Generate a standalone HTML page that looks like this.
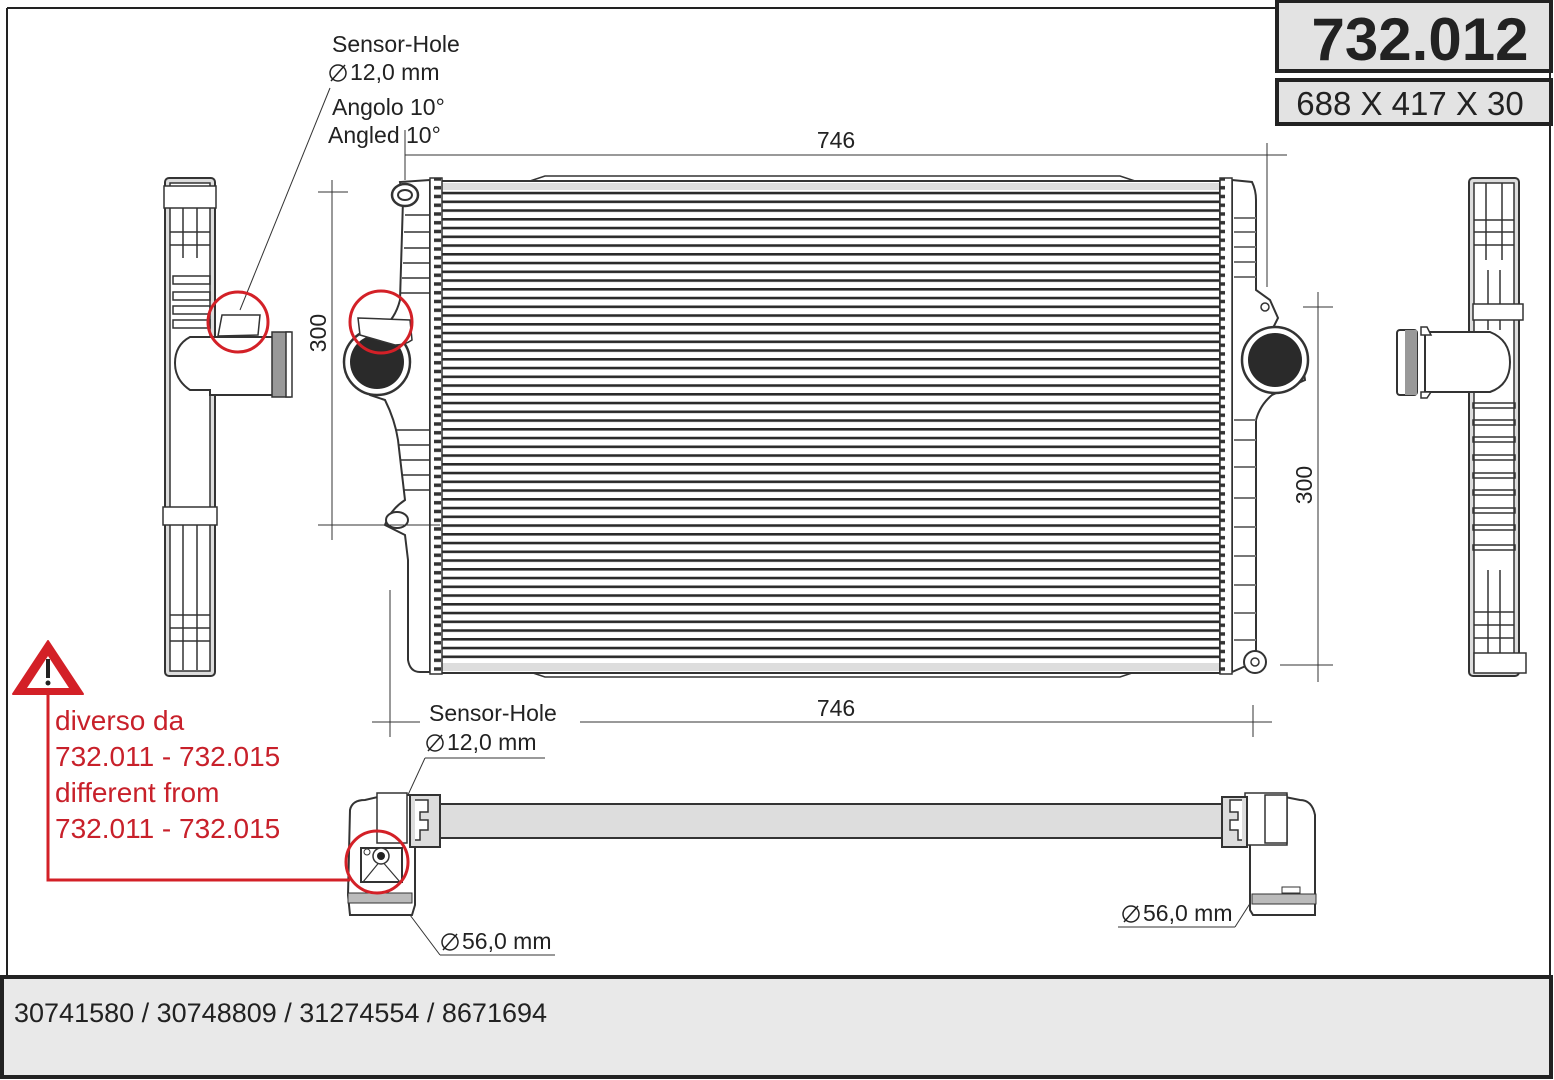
<!DOCTYPE html>
<html><head><meta charset="utf-8"><style>
html,body{margin:0;padding:0;background:#fff;}
svg{display:block;font-family:"Liberation Sans",Arial,sans-serif;}
</style></head><body>
<svg width="1554" height="1080" viewBox="0 0 1554 1080" xmlns="http://www.w3.org/2000/svg">
<defs>
<pattern id="tubes" x="0" y="183" width="10" height="8.75" patternUnits="userSpaceOnUse">
<rect width="10" height="8.75" fill="#fff"/>
<rect y="0" width="10" height="2.6" fill="#2a2a2a"/>
</pattern>
<pattern id="comb" x="0" y="183" width="14" height="8.75" patternUnits="userSpaceOnUse">
<rect width="14" height="8.75" fill="#fff"/>
<rect x="0" y="3" width="7" height="3.5" fill="#333"/>
</pattern>
</defs>
<rect x="0" y="0" width="1554" height="1080" fill="#fff"/>
<line x1="7" y1="8" x2="1278" y2="8" stroke="#222" stroke-width="2"/>
<line x1="7" y1="8" x2="7" y2="976" stroke="#222" stroke-width="2"/>
<line x1="1550" y1="72" x2="1550" y2="976" stroke="#222" stroke-width="2"/>
<rect x="1277" y="1" width="274" height="70" fill="#e3e3e3" stroke="#222" stroke-width="4"/>
<text x="1420" y="60" font-size="60" font-weight="bold" text-anchor="middle" fill="#222">732.012</text>
<rect x="1277" y="80" width="274" height="44" fill="#e3e3e3" stroke="#222" stroke-width="4"/>
<text x="1410" y="115" font-size="33" text-anchor="middle" fill="#222">688 X 417 X 30</text>
<rect x="2" y="977" width="1549" height="100" fill="#e9e9e9" stroke="#222" stroke-width="4"/>
<text x="14" y="1022" font-size="27" fill="#222">30741580 / 30748809 / 31274554 / 8671694</text>

<path d="M530,181 L545,176 L1120,176 L1135,181 Z" fill="#fff" stroke="#333" stroke-width="1.5"/>
<path d="M530,672 L545,677 L1120,677 L1135,672 Z" fill="#fff" stroke="#333" stroke-width="1.5"/>
<rect x="441" y="181" width="779" height="492" fill="url(#tubes)" stroke="#333" stroke-width="2"/>
<rect x="442" y="183" width="777" height="7" fill="#ddd"/>
<rect x="442" y="663" width="777" height="8" fill="#ddd"/>
<path d="M430,180 L400,182 L403,200 L400,300 Q395,320 380,330 L345,360 L370,395 L385,400 Q395,420 398,440 L405,500 Q390,510 385,525 L405,535 L408,560 L408,660 Q410,672 420,672 L430,672 Z" fill="#fff" stroke="#333" stroke-width="2"/>
<ellipse cx="405" cy="195" rx="13" ry="11" fill="#fff" stroke="#333" stroke-width="2.5"/>
<ellipse cx="405" cy="195" rx="7" ry="5" fill="#fff" stroke="#333" stroke-width="2"/>
<ellipse cx="397" cy="520" rx="11" ry="8" fill="#fff" stroke="#333" stroke-width="2"/>
<rect x="430" y="178" width="12" height="496" fill="url(#comb)" stroke="#333" stroke-width="1.5"/>
<circle cx="377" cy="362" r="33" fill="#fff" stroke="#333" stroke-width="2.5"/>
<circle cx="377" cy="362" r="27" fill="#2a2a2a"/>
<g stroke="#333" stroke-width="1.5">
<line x1="405" y1="215" x2="430" y2="215"/><line x1="404" y1="232" x2="430" y2="232"/><line x1="404" y1="248" x2="430" y2="248"/><line x1="403" y1="263" x2="430" y2="263"/><line x1="402" y1="278" x2="430" y2="278"/><line x1="400" y1="293" x2="430" y2="293"/>
<line x1="395" y1="430" x2="430" y2="430"/><line x1="398" y1="445" x2="430" y2="445"/><line x1="400" y1="460" x2="430" y2="460"/><line x1="402" y1="475" x2="430" y2="475"/><line x1="404" y1="490" x2="430" y2="490"/>
</g>
<path d="M358,318 L410,320 L412,340 Q405,345 395,345 L360,335 Z" fill="#fff" stroke="#333" stroke-width="1.5"/>
<circle cx="381" cy="322" r="31" fill="none" stroke="#d32027" stroke-width="3"/>
<path d="M1232,180 L1252,182 Q1256,190 1256,200 L1256,290 L1270,300 L1278,318 L1272,330 L1300,345 L1305,380 L1272,395 Q1260,405 1256,420 L1256,650 Q1250,660 1248,665 L1232,672 Z" fill="#fff" stroke="#333" stroke-width="2"/>
<rect x="1220" y="178" width="12" height="496" fill="url(#comb)" stroke="#333" stroke-width="1.5"/>
<circle cx="1275" cy="360" r="33" fill="#fff" stroke="#333" stroke-width="2.5"/>
<circle cx="1275" cy="360" r="27" fill="#2a2a2a"/>
<circle cx="1255" cy="662" r="11" fill="#fff" stroke="#333" stroke-width="2"/>
<circle cx="1255" cy="662" r="4" fill="#fff" stroke="#333" stroke-width="1.5"/>
<circle cx="1265" cy="307" r="4" fill="#fff" stroke="#333" stroke-width="1.5"/>
<g stroke="#777" stroke-width="2">
<line x1="1234" y1="218" x2="1256" y2="218"/><line x1="1234" y1="232" x2="1256" y2="232"/><line x1="1234" y1="247" x2="1256" y2="247"/><line x1="1234" y1="262" x2="1256" y2="262"/><line x1="1234" y1="277" x2="1256" y2="277"/>
<line x1="1234" y1="420" x2="1256" y2="420"/><line x1="1234" y1="440" x2="1256" y2="440"/><line x1="1234" y1="467" x2="1256" y2="467"/><line x1="1234" y1="498" x2="1256" y2="498"/><line x1="1234" y1="527" x2="1256" y2="527"/><line x1="1234" y1="556" x2="1256" y2="556"/><line x1="1234" y1="585" x2="1256" y2="585"/><line x1="1234" y1="613" x2="1256" y2="613"/><line x1="1234" y1="640" x2="1256" y2="640"/>
</g>

<g stroke="#333" stroke-width="1">
<line x1="405" y1="155" x2="1287" y2="155"/>
<line x1="405" y1="130" x2="405" y2="180"/>
<line x1="1267" y1="143" x2="1267" y2="287"/>
<line x1="332" y1="180" x2="332" y2="540"/>
<line x1="318" y1="192" x2="348" y2="192"/>
<line x1="318" y1="525" x2="440" y2="525"/>
<line x1="1318" y1="292" x2="1318" y2="682"/>
<line x1="1303" y1="307" x2="1333" y2="307"/>
<line x1="1280" y1="665" x2="1333" y2="665"/>
<line x1="372" y1="722" x2="420" y2="722"/>
<line x1="580" y1="722" x2="1272" y2="722"/>
<line x1="390" y1="590" x2="390" y2="737"/>
<line x1="1253" y1="705" x2="1253" y2="737"/>
<line x1="330" y1="88" x2="240" y2="310"/>
<line x1="545" y1="758" x2="425" y2="758"/>
<line x1="425" y1="758" x2="378" y2="860"/>
</g>
<g font-size="23" fill="#222">
<text x="836" y="148" text-anchor="middle">746</text>
<text x="836" y="716" text-anchor="middle">746</text>
<text transform="translate(326,333) rotate(-90)" text-anchor="middle">300</text>
<text transform="translate(1312,485) rotate(-90)" text-anchor="middle">300</text>
<text x="332" y="52">Sensor-Hole</text>
<text x="350" y="80">12,0 mm</text>
<text x="332" y="115">Angolo 10°</text>
<text x="328" y="143">Angled 10°</text>
<text x="429" y="721">Sensor-Hole</text>
<text x="447" y="750">12,0 mm</text>
<text x="462" y="949">56,0 mm</text>
<text x="1143" y="921">56,0 mm</text>
</g>
<g fill="none" stroke="#222" stroke-width="1.5">
<circle cx="338" cy="73" r="8"/><line x1="331" y1="81" x2="345" y2="65"/>
<circle cx="435" cy="743" r="8"/><line x1="428" y1="751" x2="442" y2="735"/>
<circle cx="450" cy="942" r="8"/><line x1="443" y1="950" x2="457" y2="934"/>
<circle cx="1131" cy="914" r="8"/><line x1="1124" y1="922" x2="1138" y2="906"/>
</g>
<g stroke="#333" stroke-width="1">
<line x1="410" y1="915" x2="440" y2="955"/><line x1="440" y1="955" x2="555" y2="955"/>
<line x1="1118" y1="927" x2="1235" y2="927"/><line x1="1235" y1="927" x2="1265" y2="880"/>
</g>

<rect x="165" y="178" width="50" height="498" rx="4" fill="#ddd" stroke="#333" stroke-width="2"/>
<rect x="170" y="183" width="40" height="488" fill="#fff" stroke="#333" stroke-width="1.5"/>
<g stroke="#333" stroke-width="1.5" fill="none">
<rect x="164" y="186" width="52" height="22" fill="#fff"/>
<line x1="183" y1="208" x2="183" y2="258"/><line x1="197" y1="208" x2="197" y2="258"/>
<line x1="170" y1="232" x2="210" y2="232"/><line x1="170" y1="245" x2="210" y2="245"/>
<rect x="173" y="276" width="37" height="8"/><rect x="173" y="292" width="37" height="8"/><rect x="173" y="306" width="37" height="8"/><rect x="173" y="320" width="37" height="8"/>
<rect x="163" y="507" width="54" height="18" fill="#fff"/>
<line x1="183" y1="525" x2="183" y2="670"/><line x1="197" y1="525" x2="197" y2="670"/>
<line x1="170" y1="615" x2="210" y2="615"/><line x1="170" y1="628" x2="210" y2="628"/><line x1="170" y1="641" x2="210" y2="641"/>
</g>
<path d="M190,337 L275,337 L275,395 L210,395 L210,390 L190,390 Q175,380 175,363 Q175,345 190,337 Z" fill="#fff" stroke="#333" stroke-width="2"/>
<rect x="272" y="332" width="18" height="65" fill="#999" stroke="#333" stroke-width="1.5"/>
<rect x="286" y="332" width="6" height="65" fill="#fff" stroke="#333" stroke-width="1.5"/>
<path d="M222,315 L260,315 L258,335 L218,336 Z" fill="#fff" stroke="#333" stroke-width="1.5"/>
<circle cx="238" cy="322" r="30" fill="none" stroke="#d32027" stroke-width="3"/>

<rect x="1469" y="178" width="50" height="498" rx="4" fill="#ddd" stroke="#333" stroke-width="2"/>
<rect x="1474" y="183" width="40" height="488" fill="#fff" stroke="#333" stroke-width="1.5"/>
<g stroke="#333" stroke-width="1.5" fill="none">
<line x1="1474" y1="220" x2="1514" y2="220"/><line x1="1474" y1="232" x2="1514" y2="232"/><line x1="1474" y1="245" x2="1514" y2="245"/>
<line x1="1486" y1="183" x2="1486" y2="260"/><line x1="1502" y1="183" x2="1502" y2="260"/>
<line x1="1488" y1="270" x2="1488" y2="330"/><line x1="1500" y1="270" x2="1500" y2="330"/>
<rect x="1473" y="304" width="50" height="16" fill="#fff"/>
<rect x="1473" y="403" width="42" height="5"/><rect x="1473" y="420" width="42" height="5"/><rect x="1473" y="437" width="42" height="5"/><rect x="1473" y="455" width="42" height="5"/><rect x="1473" y="473" width="42" height="5"/><rect x="1473" y="490" width="42" height="5"/><rect x="1473" y="508" width="42" height="5"/><rect x="1473" y="525" width="42" height="5"/><rect x="1473" y="545" width="42" height="5"/>
<line x1="1488" y1="570" x2="1488" y2="660"/><line x1="1500" y1="570" x2="1500" y2="660"/>
<line x1="1474" y1="612" x2="1514" y2="612"/><line x1="1474" y1="625" x2="1514" y2="625"/><line x1="1474" y1="638" x2="1514" y2="638"/>
<rect x="1474" y="653" width="52" height="20" fill="#fff"/>
</g>
<path d="M1425,332 L1490,332 Q1510,340 1510,362 Q1510,385 1490,392 L1425,392 Z" fill="#fff" stroke="#333" stroke-width="2"/>
<rect x="1397" y="330" width="20" height="65" rx="3" fill="#fff" stroke="#333" stroke-width="2"/>
<rect x="1405" y="330" width="12" height="65" fill="#999"/>
<path d="M1421,327 L1427,327 L1431,335 L1421,335 Z M1421,398 L1427,398 L1431,392 L1421,392 Z" fill="#fff" stroke="#333" stroke-width="1.5"/>

<rect x="430" y="804" width="800" height="34" fill="#ddd" stroke="#333" stroke-width="2"/>
<path d="M350,810 Q352,800 365,800 L378,797 L378,795 L415,795 L415,905 L412,915 L350,915 L348,895 Z" fill="#fff" stroke="#333" stroke-width="2"/>
<rect x="348" y="893" width="64" height="10" fill="#bbb" stroke="#333" stroke-width="1"/>
<rect x="377" y="793" width="30" height="50" fill="#fff" stroke="#333" stroke-width="1.5"/>
<rect x="410" y="795" width="30" height="52" fill="#ddd" stroke="#333" stroke-width="2"/>
<path d="M415,800 L428,800 L428,812 L420,812 L420,820 L428,820 L428,830 L420,830 L420,840 L415,840" fill="#fff" stroke="#333" stroke-width="1.5"/>
<rect x="361" y="848" width="41" height="34" fill="#fff" stroke="#333" stroke-width="2"/>
<path d="M363,882 L381,860 L400,882" fill="none" stroke="#333" stroke-width="1.2"/>
<circle cx="381" cy="856" r="8" fill="#fff" stroke="#333" stroke-width="1.5"/>
<circle cx="381" cy="856" r="4" fill="#222"/>
<circle cx="367" cy="852" r="3" fill="#fff" stroke="#333" stroke-width="1"/>
<circle cx="377" cy="862" r="31" fill="none" stroke="#d32027" stroke-width="3"/>
<path d="M1250,840 L1250,910 L1253,915 L1315,915 L1315,815 Q1312,800 1300,800 L1285,797 L1250,797 Z" fill="#fff" stroke="#333" stroke-width="2"/>
<rect x="1252" y="894" width="64" height="10" fill="#bbb" stroke="#333" stroke-width="1"/>
<rect x="1282" y="887" width="18" height="6" fill="#fff" stroke="#333" stroke-width="1"/>
<rect x="1245" y="793" width="42" height="52" fill="#fff" stroke="#333" stroke-width="1.5"/>
<rect x="1265" y="795" width="22" height="48" fill="#fff" stroke="#333" stroke-width="1.5"/>
<rect x="1222" y="797" width="25" height="50" fill="#ddd" stroke="#333" stroke-width="2"/>
<path d="M1242,800 L1230,800 L1230,812 L1238,812 L1238,820 L1230,820 L1230,830 L1238,830 L1238,840 L1242,840" fill="#fff" stroke="#333" stroke-width="1.5"/>

<path d="M48,641 L83,694 L13,694 Z" fill="#d32027" stroke="#d32027" stroke-width="2" stroke-linejoin="round"/>
<path d="M48,656 L69,688 L27,688 Z" fill="#fff"/>
<rect x="46" y="659" width="4" height="19" fill="#222"/>
<circle cx="48" cy="683" r="2.5" fill="#222"/>
<polyline points="48,695 48,880 350,880" fill="none" stroke="#d32027" stroke-width="3"/>
<g font-size="28" fill="#c8202a">
<text x="55" y="730">diverso da</text>
<text x="55" y="766">732.011 - 732.015</text>
<text x="55" y="802">different from</text>
<text x="55" y="838">732.011 - 732.015</text>
</g>
</svg>
</body></html>
